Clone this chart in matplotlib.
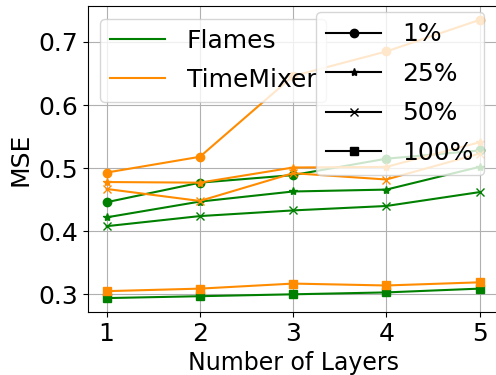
import matplotlib
matplotlib.use("Agg")
import matplotlib.pyplot as plt
from matplotlib.lines import Line2D

layers = [1, 2, 3, 4, 5]
ratios = ["1%", "25%", "50%", "100%"]
markers = ["o", "*", "x", "s"]

flames = {
    "1%":   [0.446, 0.477, 0.489, 0.515, 0.528],
    "25%":  [0.422, 0.447, 0.463, 0.466, 0.502],
    "50%":  [0.408, 0.424, 0.433, 0.440, 0.462],
    "100%": [0.294, 0.297, 0.300, 0.303, 0.309],
}
timemixer = {
    "1%":   [0.493, 0.518, 0.646, 0.685, 0.735],
    "25%":  [0.478, 0.477, 0.501, 0.502, 0.541],
    "50%":  [0.467, 0.448, 0.492, 0.482, 0.523],
    "100%": [0.305, 0.309, 0.317, 0.314, 0.319],
}
models = {"Flames": (flames, "green"), "TimeMixer": (timemixer, "darkorange")}

fig = plt.figure(figsize=(4.96, 3.75), dpi=100)
ax = fig.add_axes([0.1774, 0.168, 0.827, 0.816])
for name, (data, color) in models.items():
    for r, m in zip(ratios, markers):
        ax.plot(layers, data[r], color=color, marker=m, markersize=6, linewidth=1.5)

ax.set_xticks(layers)
ax.set_xlabel("Number of Layers", fontsize=17)
ax.set_ylabel("MSE", fontsize=18)
ax.tick_params(labelsize=18)
ax.grid(True)

h1 = [Line2D([], [], color=c) for _, (_, c) in models.items()]
leg1 = ax.legend(h1, list(models.keys()), loc="upper left", fontsize=18,
                 handlelength=2.2, handletextpad=0.85, labelspacing=0.62)
ax.add_artist(leg1)
h2 = [Line2D([], [], color="black", marker=m) for m in markers]
ax.legend(h2, ratios, loc="upper right", fontsize=18,
          handlelength=2.2, handletextpad=0.85, labelspacing=0.62,
          bbox_to_anchor=(0.98, 1.0), borderaxespad=0.25)

fig.savefig("out.png", dpi=100)
